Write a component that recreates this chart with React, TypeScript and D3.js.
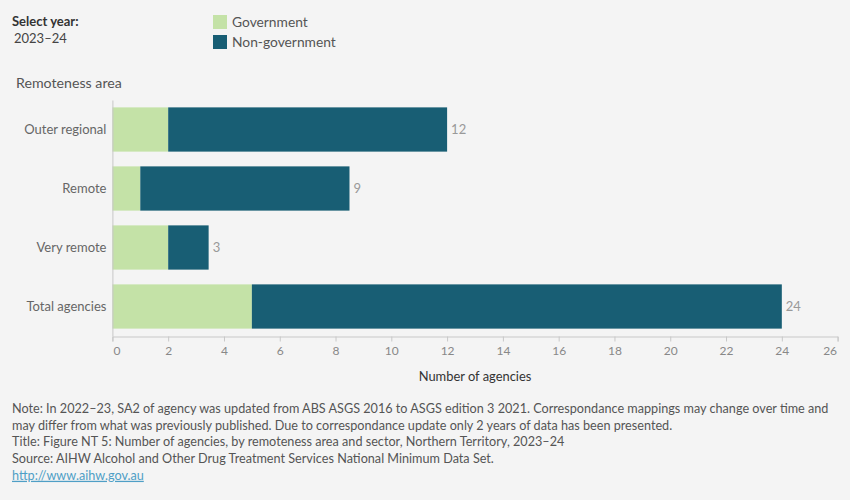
import React, { useEffect, useRef } from "react";
import * as d3 from "d3";

// remoteness areas, top to bottom
const categories = ["Outer regional", "Remote", "Very remote", "Total agencies"];
const government = [2, 1, 2, 5];
const nonGovernment = [10, 7.5, 1.45, 19];
const xTicks = [0, 2, 4, 6, 8, 10, 12, 14, 16, 18, 20, 22, 24, 26];
const series = ["Government", "Non-government"];
const seriesColors = ["#c4e2a7", "#185e74"];

const notes = [
  "Note: In 2022–23, SA2 of agency was updated from ABS ASGS 2016 to ASGS edition 3 2021. Correspondance mappings may change over time and",
  "may differ from what was previously published. Due to correspondance update only 2 years of data has been presented.",
  "Title: Figure NT 5: Number of agencies, by remoteness area and sector, Northern Territory, 2023–24",
  "Source: AIHW Alcohol and Other Drug Treatment Services National Minimum Data Set.",
];

const W = 850;
const H = 500;
const FONT = "Lato, 'Open Sans', sans-serif";

const App = () => {
  const ref = useRef<SVGSVGElement | null>(null);

  useEffect(() => {
    if (!ref.current) return;
    const svg = d3.select(ref.current);
    svg.selectAll("*").remove();

    svg.append("rect").attr("width", W).attr("height", H).attr("fill", "#f4f4f4");

    // header
    svg.append("text").attr("x", 12).attr("y", 26).text("Select year:")
      .attr("font-size", 13).attr("font-weight", "bold").attr("fill", "#333");
    svg.append("text").attr("x", 14).attr("y", 43).text("2023–24")
      .attr("font-size", 13).attr("fill", "#444");

    // legend
    const legend = svg.append("g");
    series.forEach((s, i) => {
      legend.append("rect").attr("x", 213).attr("y", 15 + i * 20)
        .attr("width", 14).attr("height", 14).attr("fill", seriesColors[i]);
      legend.append("text").attr("x", 232).attr("y", 27 + i * 20).text(s)
        .attr("font-size", 13.8).attr("fill", "#555");
    });

    svg.append("text").attr("x", 16).attr("y", 88).text("Remoteness area")
      .attr("font-size", 14.2).attr("fill", "#555");

    const x = d3.scaleLinear().domain([0, 26]).range([112.4, 837.6]);
    const y = d3.scaleBand().domain(categories).range([100, 336])
      .paddingInner(0.25).paddingOuter(0.125);

    const rows = categories.map((c, i) => ({
      cat: c, gov: government[i], non: nonGovernment[i], total: government[i] + nonGovernment[i],
    }));

    const bars = svg.append("g");
    bars.selectAll("rect.gov").data(rows).enter().append("rect")
      .attr("x", x(0)).attr("y", (d) => y(d.cat)!)
      .attr("width", (d) => x(d.gov) - x(0)).attr("height", y.bandwidth())
      .attr("fill", seriesColors[0]);
    bars.selectAll("rect.non").data(rows).enter().append("rect")
      .attr("x", (d) => x(d.gov)).attr("y", (d) => y(d.cat)!)
      .attr("width", (d) => x(d.total) - x(d.gov)).attr("height", y.bandwidth())
      .attr("fill", seriesColors[1]);
    bars.selectAll("text").data(rows).enter().append("text")
      .attr("x", (d) => x(d.total) + 4).attr("y", (d) => y(d.cat)! + y.bandwidth() / 2)
      .attr("dy", "0.35em").text((d) => Math.round(d.total))
      .attr("font-size", 13).attr("fill", "#999");

    // y axis
    const yAxis = svg.append("g").attr("transform", `translate(${x(0)},0)`)
      .call(d3.axisLeft(y).tickSize(0).tickPadding(6));
    yAxis.select(".domain").attr("stroke", "#c8c8c8");
    yAxis.selectAll("text").attr("font-size", 13).attr("fill", "#666").attr("font-family", FONT);

    // x axis
    const xAxis = svg.append("g").attr("transform", "translate(0,336.5)")
      .call(d3.axisBottom(x).tickValues(xTicks).tickSize(5).tickSizeOuter(5).tickPadding(5));
    xAxis.select(".domain").attr("stroke", "#c8c8c8");
    xAxis.selectAll("line").attr("stroke", "#c8c8c8");
    xAxis.selectAll<SVGTextElement, number>("text")
      .attr("font-size", 12).attr("fill", "#888").attr("font-family", FONT)
      .attr("dx", (d) => (d === 0 ? 4 : d === 26 ? -8 : 0));

    svg.append("text").attr("x", x(13)).attr("y", 381).attr("text-anchor", "middle")
      .text("Number of agencies").attr("font-size", 12.9).attr("fill", "#333");

    // footnotes
    notes.forEach((n, i) => {
      svg.append("text").attr("x", 12).attr("y", 413 + i * 16.7).text(n)
        .attr("font-size", 12.65).attr("fill", "#555");
    });
    svg.append("text").attr("x", 12).attr("y", 413 + 4 * 16.7).text("http://www.aihw.gov.au")
      .attr("font-size", 12.65).attr("fill", "#4f9fc6").attr("text-decoration", "underline");
  }, []);

  return (
    <div style={{ position: "absolute", left: 0, top: 0 }}>
      <svg ref={ref} width={W} height={H} style={{ display: "block", fontFamily: FONT }} />
    </div>
  );
};

export default App;
